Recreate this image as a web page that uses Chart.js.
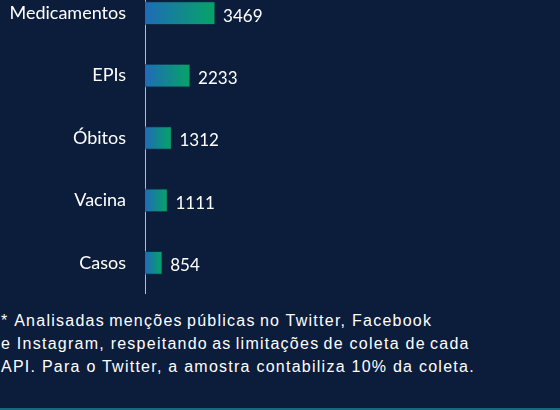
<!DOCTYPE html>
<html>
<head>
<meta charset="utf-8">
<script src="https://cdn.jsdelivr.net/npm/chart.js@4"></script>
<style>
  html, body { margin: 0; padding: 0; }
  body {
    width: 560px; height: 410px; overflow: hidden; position: relative;
    background: #0c1c3b;
  }
  #grafico { position: absolute; left: 0; top: -18px; }
  #nota {
    position: absolute; left: 1px; top: 309px;
    font-family: "Liberation Sans", Arial, sans-serif; font-size: 16px;
    letter-spacing: 1.25px;
    line-height: 23px; color: #ffffff; white-space: nowrap;
  }
  .junto { word-spacing: -1.5px; }
  #linha { position: absolute; left: 0; right: 0; top: 408px; height: 2px; background: #17687e; }
</style>
</head>
<body>
<canvas id="grafico" width="560" height="312"></canvas>
<div id="nota">
  * <span class="junto">Analisadas menções públicas no</span> Twitter, Facebook<br>
  e Instagram, <span class="junto">respeitando as limitações de</span> coleta <span class="junto">de cada</span><br>
  API. Para o Twitter, a amostra contabiliza 10% da coleta.
</div>
<div id="linha"></div>
<script>
// Dados do gráfico
const categorias = ['Medicamentos', 'EPIs', 'Óbitos', 'Vacina', 'Casos'];
const mencoes = [3469, 2233, 1312, 1111, 854];

const fonte = '"Lato", "Open Sans", sans-serif';

// Rótulo com o valor no fim de cada barra
const rotuloValores = {
  id: 'rotuloValores',
  afterDatasetsDraw(chart) {
    const ctx = chart.ctx;
    const meta = chart.getDatasetMeta(0);
    ctx.save();
    ctx.font = '17px ' + fonte;
    ctx.fillStyle = '#ffffff';
    ctx.textAlign = 'left';
    ctx.textBaseline = 'middle';
    meta.data.forEach((bar, i) => {
      ctx.fillText(mencoes[i], bar.x + 8, bar.y + 3);
    });
    ctx.restore();
  }
};

// Degradê azul -> verde do início ao fim de cada barra
function degrade(c) {
  const x = c.chart.scales.x;
  if (!x || c.raw === undefined) return '#1a7fa0';
  const x0 = x.getPixelForValue(0), x1 = x.getPixelForValue(c.raw);
  if (!isFinite(x0) || !isFinite(x1) || x1 <= x0) return '#1a7fa0';
  const g = c.chart.ctx.createLinearGradient(x0, 0, x1, 0);
  g.addColorStop(0, '#1f6bb8');
  g.addColorStop(1, '#06a466');
  return g;
}

const ctx = document.getElementById('grafico').getContext('2d');
new Chart(ctx, {
  type: 'bar',
  data: {
    labels: categorias,
    datasets: [{
      data: mencoes,
      barThickness: 23,
      borderWidth: 1,
      borderColor: 'rgba(10,60,70,0.6)',
      borderSkipped: 'left',
      backgroundColor: degrade
    }]
  },
  options: {
    indexAxis: 'y',
    responsive: false,
    animation: false,
    layout: { padding: { left: 0, right: 11, top: 0, bottom: 0 } },
    plugins: {
      legend: { display: false },
      tooltip: { enabled: false }
    },
    scales: {
      x: {
        min: 0,
        max: 20000,
        display: false,
        grid: { display: false }
      },
      y: {
        // largura fixa e sem folga em cima/embaixo
        afterFit: (s) => { s.width = 145; s.paddingTop = 0; s.paddingBottom = 0; },
        grid: { display: false, drawTicks: false },
        border: { display: true, color: '#b8bcc8', width: 1 },
        ticks: {
          color: '#ffffff',
          padding: 19,
          font: { family: fonte, size: 18 }
        }
      }
    }
  },
  plugins: [rotuloValores]
});
</script>
</body>
</html>
